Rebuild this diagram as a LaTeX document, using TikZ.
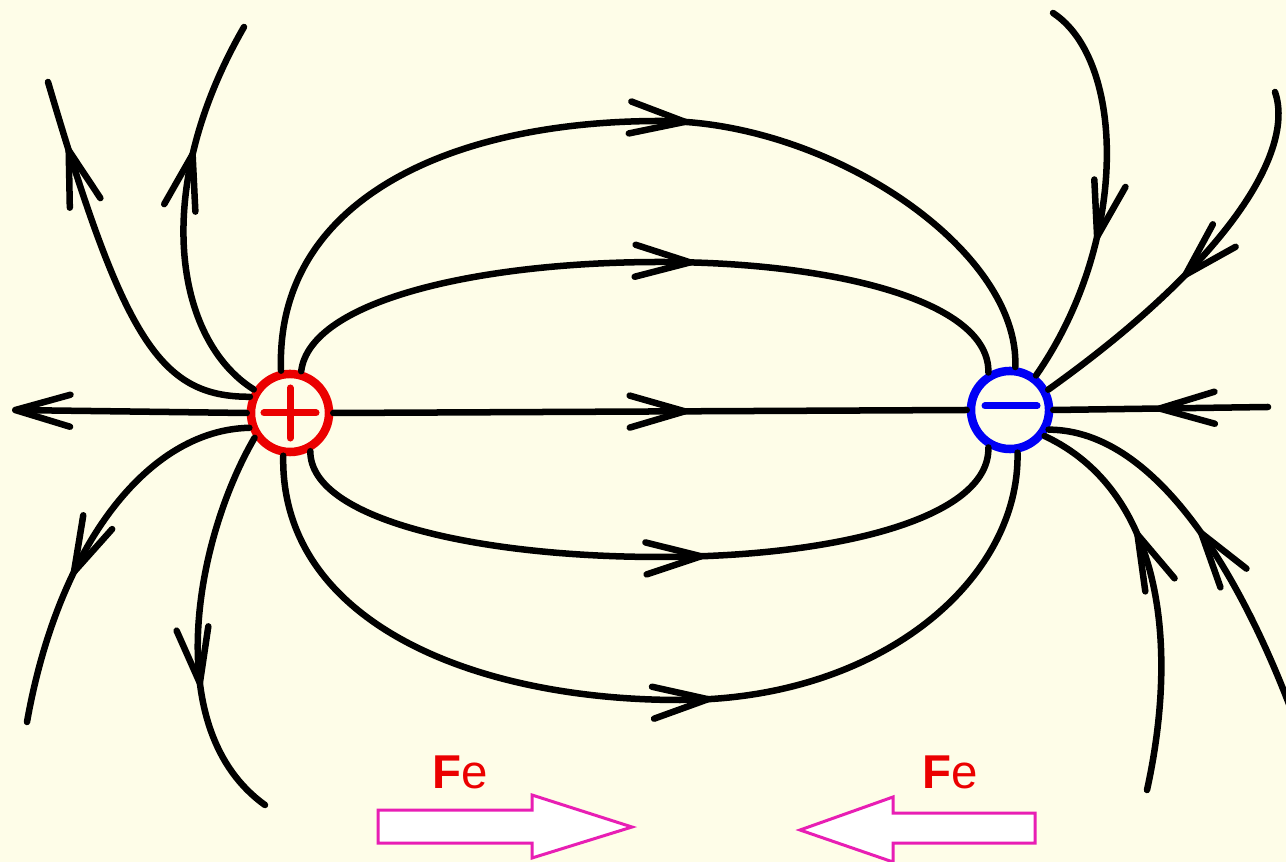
\documentclass[tikz,border=0pt]{standalone}
\usepackage{fontspec}
\setmainfont{Liberation Sans}
\usetikzlibrary{arrows.meta,decorations.markings}
\definecolor{bgcream}{RGB}{254,253,232}
\definecolor{fepink}{RGB}{232,30,180}
\definecolor{chgred}{RGB}{235,0,0}
\definecolor{chgblue}{RGB}{0,0,245}
\tikzset{
  barb/.tip={Straight Barb[length=5.5mm,width=3.2mm,round]},
  midarr/.style={postaction={decorate},decoration={markings,mark=at position #1 with {\arrow{barb}}}}
}

\begin{document}
\begin{tikzpicture}[x=0.01cm,y=-0.01cm,
    fline/.style={line width=0.065cm,line cap=round,black},
    chg/.style={circle,draw,line width=0.085cm,minimum size=0.78cm,inner sep=0pt,fill=bgcream},
    felabel/.style={text=chgred,font=\fontsize{13.5}{16}\selectfont},
    fearrow/.style={draw=fepink,line width=0.03cm,fill=white,line join=miter}]
  \fill[bgcream] (0,0) rectangle (1286,862);
  \useasboundingbox (0,0) rectangle (1286,862);
  \node[chg,draw=chgred] (plus) at (290,413) {};
  \node[chg,draw=chgblue] (minus) at (1010,410) {};
  \draw[chgred,line width=0.07cm,line cap=round] ([xshift=-0.26cm]plus.center) -- ([xshift=0.26cm]plus.center)
    ([yshift=-0.25cm]plus.center) -- ([yshift=0.25cm]plus.center);
  \draw[chgblue,line width=0.07cm,line cap=round] ([xshift=-0.25cm,yshift=0.04cm]minus.center) -- ([xshift=0.27cm,yshift=0.04cm]minus.center);

  \coordinate (endL) at (12,410);
  \coordinate (endA) at (48,82);
  \coordinate (endB) at (244,27);
  \coordinate (endC) at (27,722);
  \coordinate (endD) at (265,805);
  \coordinate (endE) at (1053,13);
  \coordinate (endF) at (1275,92);
  \coordinate (endR) at (1268,407);
  \coordinate (endG) at (1147,790);
  \coordinate (endH) at (1292,712);

  \draw[fline,midarr=0.56] (plus.east) -- (minus.west);
  \draw[fline,-barb] (plus.west) -- (endL);
  \draw[fline,midarr=0.52] (endR) -- (minus.east);

  \draw[fline,midarr=0.55] (plus.102) .. controls (275,200) and (450,121) .. (660,121)
    .. controls (830,121) and (1020,250) .. (minus.83);
  \draw[fline,midarr=0.56] (plus.75) .. controls (310,300) and (480,262) .. (660,262)
    .. controls (830,262) and (990,300) .. (minus.120);
  \draw[fline,midarr=0.57] (plus.-62) .. controls (310,520) and (480,557) .. (660,557)
    .. controls (830,557) and (990,520) .. (minus.240);
  \draw[fline,midarr=0.56] (plus.-99) .. controls (280,620) and (470,700) .. (680,700)
    .. controls (880,700) and (1020,580) .. (minus.280);

  \draw[fline,midarr=0.83] (plus.158) .. controls (160,397) and (124,340) .. (endA);
  \draw[fline,midarr=0.66] (plus.147) .. controls (175,340) and (150,190) .. (endB);
  \draw[fline,midarr=0.61] (plus.200) .. controls (147,430) and (58,547) .. (endC);
  \draw[fline,midarr=0.65] (plus.215) .. controls (195,540) and (160,730) .. (endD);

  \draw[fline,midarr=0.62] (endE) .. controls (1125,60) and (1130,240) .. (minus.53);
  \draw[fline,midarr=0.55] (endF) .. controls (1295,150) and (1230,260) .. (minus.28);
  \draw[fline,midarr=0.66] (endG) .. controls (1180,640) and (1160,490) .. (minus.-37);
  \draw[fline,midarr=0.52] (endH) .. controls (1244,585) and (1160,430) .. (minus.-27);

  \node[felabel] (fe1) at (460,772) {\textbf{F}e};
  \node[felabel] (fe2) at (950,772) {\textbf{F}e};
  \draw[fearrow] (378,810) -- (532,810) -- (532,795) -- (632,827) -- (532,858) -- (532,843) -- (378,843) -- cycle;
  \draw[fearrow] (1035,813) -- (893,813) -- (893,797) -- (800,830) -- (893,862) -- (893,843) -- (1035,843) -- cycle;
\end{tikzpicture}
\end{document}
